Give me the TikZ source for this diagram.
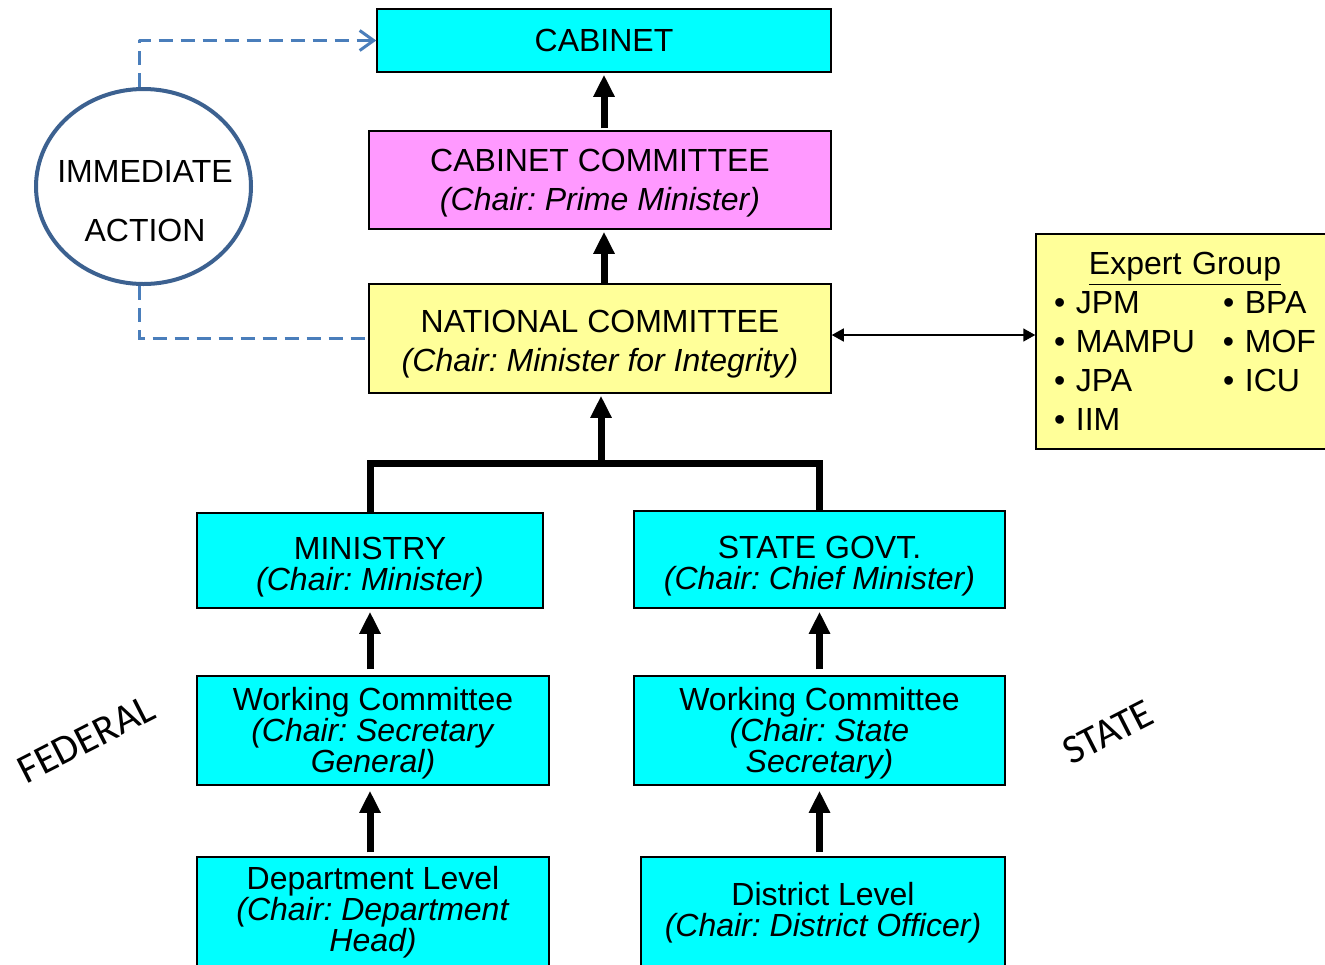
\documentclass[tikz,border=0pt]{standalone}
\usepackage{fontspec}
\setmainfont{Liberation Sans}
\newfontfamily\calfont{Carlito}
\usetikzlibrary{arrows.meta,shapes.geometric}
\frenchspacing
\definecolor{cyanbox}{HTML}{00FFFF}
\definecolor{pinkbox}{HTML}{FF99FF}
\definecolor{yellowbox}{HTML}{FFFF99}
\definecolor{ellblue}{HTML}{3C6190}
\definecolor{dashblue}{HTML}{4A7EBB}
\newcommand{\topstrut}[1]{\rule{0pt}{#1}}
\tikzset{
  wh/.style 2 args={minimum width=#1*0.5pt, minimum height=#2*0.5pt},
  box/.style={draw=black, line width=0.75pt, inner sep=0pt, align=center,
    font=\fontsize{16}{15.5}\selectfont},
  widebox/.style={box, font=\fontsize{16}{19.5}\selectfont},
  uparrow/.style={line width=3.5pt, -{Triangle[length=11pt,width=10pt]}},
  treeline/.style={line width=3.5pt},
  dashlink/.style={draw=dashblue, line width=1.5pt, dash pattern=on 7pt off 4pt},
  slanttext/.style={font=\calfont\fontsize{20.5}{20.5}\selectfont, rotate=27}
}
\begin{document}
\begin{tikzpicture}[x=0.5pt, y=-0.5pt]
\clip (0,0) rectangle (1325,964);
\useasboundingbox (0,0) rectangle (1325,964);

\node[box, fill=cyanbox, wh={454}{63}] (cab) at (604,40.5) {CABINET};
\node[widebox, fill=pinkbox, wh={462}{98}] (cc) at (600,180)
  {\topstrut{14.5pt}CABINET COMMITTEE\\ \textit{(Chair: Prime Minister)}};
\node[widebox, fill=yellowbox, wh={462}{109}] (nat) at (600,338.5)
  {\topstrut{16.5pt}NATIONAL COMMITTEE\\ \textit{(Chair: Minister for Integrity)}};
\node[box, fill=cyanbox, wh={346}{95}] (min) at (370,560.5)
  {\topstrut{17.5pt}MINISTRY\\ \textit{(Chair: Minister)}};
\node[box, fill=cyanbox, wh={371}{97}] (sg) at (819.5,559.5)
  {\topstrut{17.5pt}STATE GOVT.\\ \textit{(Chair: Chief Minister)}};
\node[box, fill=cyanbox, wh={352}{109}] (wc1) at (373,730.5)
  {\topstrut{14.5pt}Working Committee\\ \textit{(Chair: Secretary}\\ \textit{General)}};
\node[box, fill=cyanbox, wh={371}{109}] (wc2) at (819.5,730.5)
  {\topstrut{14.5pt}Working Committee\\ \textit{(Chair: State}\\ \textit{Secretary)}};
\node[box, fill=cyanbox, wh={352}{111}] (dept) at (373,912.5)
  {Department Level\\ \textit{(Chair: Department}\\ \textit{Head)}};
\node[box, fill=cyanbox, wh={364}{111}] (dist) at (823,912.5)
  {District Level\\ \textit{(Chair: District Officer)}};

\node[draw=black, line width=0.75pt, fill=yellowbox, align=left,
  font=\fontsize{16}{19.5}\selectfont, inner xsep=9pt, inner ysep=0pt,
  text width=131pt, minimum height=107.5pt] (eg) at (1185,341.5)
  {\makebox[131pt][c]{\underline{Expert Group}}\\
   \makebox[84.5pt][l]{• JPM}• BPA\\
   \makebox[84.5pt][l]{• MAMPU}• MOF\\
   \makebox[84.5pt][l]{• JPA}• ICU\\
   • IIM};

\node[ellipse, draw=ellblue, line width=2pt, fill=white, minimum width=107.5pt,
  minimum height=97.5pt, inner sep=0pt] (ia) at (143.5,186.5) {};
\node[align=center, font=\fontsize{16}{29.5}\selectfont] (iatext) at (145,201.5)
  {IMMEDIATE\\ ACTION};

\node[slanttext] (fed) at (86,739) {FEDERAL};
\node[slanttext] (st) at (1108,732) {STATE};

% connectors
\draw[uparrow, shorten <=1pt, shorten >=1pt] (cc.north -| cab.south) -- (cab.south);
\draw[uparrow, shorten >=1pt] (nat.north -| cab.south) -- (cc.south -| cab.south);
\coordinate (j) at (601,463);
\draw[treeline] (min.north) |- (j) -| (sg.north);
\draw[uparrow, shorten >=1pt] (j) -- (j |- nat.south);
\draw[uparrow, shorten <=3pt, shorten >=1.5pt] (wc1.north -| min.south) -- (min.south);
\draw[uparrow, shorten <=3pt, shorten >=1.5pt] (wc2.north -| sg.south) -- (sg.south);
\draw[uparrow, shorten <=2pt, shorten >=2.5pt] (dept.north -| min.south) -- (wc1.south -| min.south);
\draw[uparrow, shorten <=2pt, shorten >=2.5pt] (dist.north -| sg.south) -- (wc2.south -| sg.south);

\draw[line width=0.75pt, {Triangle[length=6pt,width=6.5pt]}-{Triangle[length=6pt,width=6.5pt]}]
  ([yshift=1.75pt]nat.east) -- ([yshift=1.75pt]nat.east -| eg.west);

\draw[dashlink, -{Straight Barb[length=7pt,width=10pt]}, line join=round]
  ([xshift=-2.25pt]ia.north) |- (cab.west);
\draw[dashlink] ([xshift=-2.25pt]ia.south) |- (nat.west);
\end{tikzpicture}
\end{document}
